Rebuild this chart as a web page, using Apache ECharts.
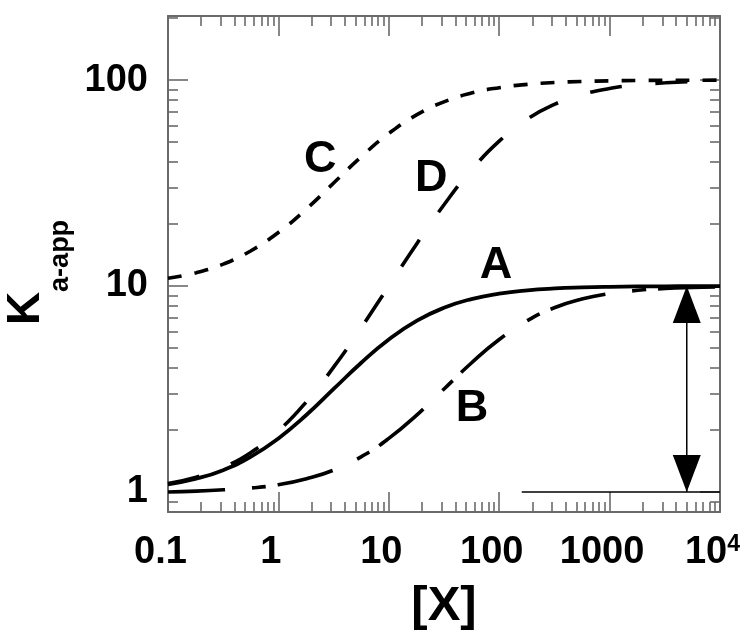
<!DOCTYPE html>
<html><head><meta charset="utf-8">
<script src="https://cdn.jsdelivr.net/npm/echarts@6/dist/echarts.min.js"></script>
<style>html,body{margin:0;padding:0;background:#fff}#c{width:750px;height:640px}</style>
</head><body><div id="c"></div>
<script>
const xValues = [0.1, 0.18, 0.32, 0.56, 1, 1.8, 3.2, 5.6, 10, 18, 32, 56, 100, 180, 320, 560, 1000, 1800, 3200, 5600, 10000];
const curveA = [1.09, 1.16, 1.28, 1.48, 1.82, 2.37, 3.18, 4.23, 5.5, 6.79, 7.86, 8.64, 9.18, 9.53, 9.73, 9.84, 9.91, 9.95, 9.97, 9.98, 9.99];
const curveB = [1.0, 1.01, 1.025, 1.045, 1.085, 1.16, 1.28, 1.48, 1.82, 2.37, 3.18, 4.23, 5.5, 6.79, 7.86, 8.64, 9.18, 9.53, 9.73, 9.84, 9.91];
const curveC = [10.9, 11.6, 12.8, 14.8, 18.2, 23.7, 31.8, 42.3, 55, 67.9, 78.6, 86.4, 91.8, 95.3, 97.3, 98.4, 99.1, 99.5, 99.7, 99.8, 99.9];
const curveD = [1.1, 1.18, 1.32, 1.55, 1.98, 2.75, 4.07, 6.25, 10, 16.1, 25, 36.5, 50.5, 64.6, 76.4, 85, 91, 94.8, 97, 98.3, 99.0];
const xTickValues = [0.1, 1, 10, 100, 1000, 10000];
const xTickLabels = ['0.1', '1', '10', '100', '1000', '10^4'];
const yTickValues = [1, 10, 100];
const yTickLabels = ['1', '10', '100'];
const curveNames = ['A', 'B', 'C', 'D'];
const curveLabelX = [93.5, 56.8, 2.39, 24.2];
const curveLabelY = [12.5, 2.53, 40.9, 33.4];
const arrowX = 5000, arrowFrom = 1, arrowTo = 10;
const baseLineX = [160, 10000], baseLineY = 1;
const xRange = [0.1, 10000];
const yRange = [0.8, 204.6];

// ---- build ----
const L = Math.log10;
const FONT = '"Liberation Sans", Arial, Helvetica, sans-serif';
const AX = '#6a6a6a';
const xMin = L(xRange[0]), xMax = L(xRange[1]);
const yMin = L(yRange[0]) - 0.0003, yMax = L(yRange[1]);
const xMajor = xTickValues.map(L);
const yMajor = yTickValues.map(L);
const xMinor = [], yMinor = [];
for (let d = -1; d <= 3; d++) for (let k = 2; k <= 9; k++) xMinor.push(L(k) + d);
for (let d = -1; d <= 2; d++) for (let k = 2; k <= 9; k++) { const v = L(k) + d; if (v >= yMin && v <= yMax) yMinor.push(v); }

function xLabel(v) {
  const i = xMajor.findIndex(m => Math.abs(m - v) < 1e-6);
  const t = i >= 0 ? xTickLabels[i] : '';
  if (t.indexOf('^') >= 0) { const p = t.split('^'); return '{b|' + p[0] + '}{sup|' + p[1] + '}'; }
  return '{b|' + t + '}';
}
function yLabel(v) {
  const i = yMajor.findIndex(m => Math.abs(m - v) < 1e-6);
  return i >= 0 ? yTickLabels[i] : '';
}
const tickStyle = { color: AX, width: 1.6 };
function xAx(pos, major, first) {
  const a = {
    type: 'value', min: xMin, max: xMax, position: pos,
    axisLine: { show: major, onZero: false, lineStyle: { color: AX, width: 2 } },
    axisTick: { show: true, inside: true, length: major ? 20 : 10, customValues: major ? xMajor : xMinor, lineStyle: tickStyle },
    axisLabel: { show: false },
    splitLine: { show: false }
  };
  if (first) {
    a.axisLabel = {
      show: true, customValues: xMajor, margin: 21, formatter: xLabel, padding: [0, 15, 0, 0],
      rich: {
        b: { fontSize: 38, fontWeight: 'bold', fontFamily: FONT, color: '#000', lineHeight: 40 },
        sup: { fontSize: 23, fontWeight: 'bold', fontFamily: FONT, color: '#000', lineHeight: 2, verticalAlign: 'top' }
      }
    };
    a.name = '[X]'; a.nameLocation = 'middle'; a.nameGap = 70;
    a.nameTextStyle = { fontSize: 49, fontWeight: 'bold', fontFamily: FONT, color: '#000', lineHeight: 49 };
  }
  return a;
}
function yAx(pos, major, first) {
  const a = {
    type: 'value', min: yMin, max: yMax, position: pos,
    axisLine: { show: major, onZero: false, lineStyle: { color: AX, width: 2 } },
    axisTick: { show: true, inside: true, length: major ? 20 : 10, customValues: major ? yMajor : yMinor, lineStyle: tickStyle },
    axisLabel: { show: false },
    splitLine: { show: false }
  };
  if (first) {
    a.axisLabel = { show: true, customValues: yMajor, margin: 20, formatter: yLabel, fontSize: 38, fontWeight: 'bold', fontFamily: FONT, color: '#000', lineHeight: 40, padding: [0, 0, 17, 0] };
    a.name = '{k|K}{s|a-app}'; a.nameLocation = 'middle'; a.nameRotate = 90; a.nameGap = 90;
    a.nameTextStyle = {
      padding: [0, 17, 0, 0],
      rich: {
        k: { fontSize: 46, fontWeight: 'bold', fontFamily: FONT, color: '#000', lineHeight: 94 },
        s: { fontSize: 27, fontWeight: 'bold', fontFamily: FONT, color: '#000', lineHeight: 9, verticalAlign: 'bottom' }
      }
    };
  }
  return a;
}
function curve(name, vals, dash, w) {
  return {
    name: name, type: 'line', data: xValues.map((x, i) => [L(x), L(vals[i])]),
    showSymbol: false, smooth: 0.5, silent: true,
    lineStyle: { color: '#000', width: w, type: dash }, z: 3
  };
}
const ax = L(arrowX);
const solidItem = { color: '#000', opacity: 1 };
const option = {
  animation: false,
  backgroundColor: '#fff',
  grid: { left: 168, top: 16, width: 552, height: 496, containLabel: false, outerBoundsMode: 'none' },
  xAxis: [xAx('bottom', true, true), xAx('bottom', false, false), xAx('top', true, false), xAx('top', false, false)],
  yAxis: [yAx('left', true, true), yAx('left', false, false), yAx('right', true, false), yAx('right', false, false)],
  series: [
    curve('A', curveA, 'solid', 3.8),
    curve('B', curveB, [57, 27, 14, 12], 3.6),
    curve('C', curveC, [14, 13], 3.6),
    curve('D', curveD, [32, 34], 3.6),
    { type: 'line', data: [[L(baseLineX[0]), L(baseLineY)], [L(baseLineX[1]), L(baseLineY)]], showSymbol: false, lineStyle: { color: '#000', width: 1.5 }, z: 2 },
    { type: 'line', data: [[ax, L(arrowFrom)], [ax, L(arrowTo)]], showSymbol: false, lineStyle: { color: '#000', width: 1.5 }, z: 2 },
    { type: 'scatter', data: [[ax, L(arrowTo)]], symbol: 'triangle', symbolSize: [28, 37], symbolOffset: [0, 18.5], itemStyle: solidItem, z: 4 },
    { type: 'scatter', data: [[ax, L(arrowFrom)]], symbol: 'triangle', symbolRotate: 180, symbolSize: [28, 37], symbolOffset: [0, -18.5], itemStyle: solidItem, z: 4 },
    { type: 'scatter', symbolSize: 1, itemStyle: { color: 'rgba(0,0,0,0)', opacity: 1 }, z: 5,
      data: curveNames.map((n, i) => ({ name: n, value: [L(curveLabelX[i]), L(curveLabelY[i])] })),
      label: { show: true, position: 'inside', formatter: '{b}', fontSize: 45, fontWeight: 'bold', fontFamily: FONT, color: '#000', opacity: 1, textBorderWidth: 0 } }
  ]
};
const chart = echarts.init(document.getElementById('c'), null, { renderer: 'canvas' });
chart.setOption(option);
</script>
</body></html>
